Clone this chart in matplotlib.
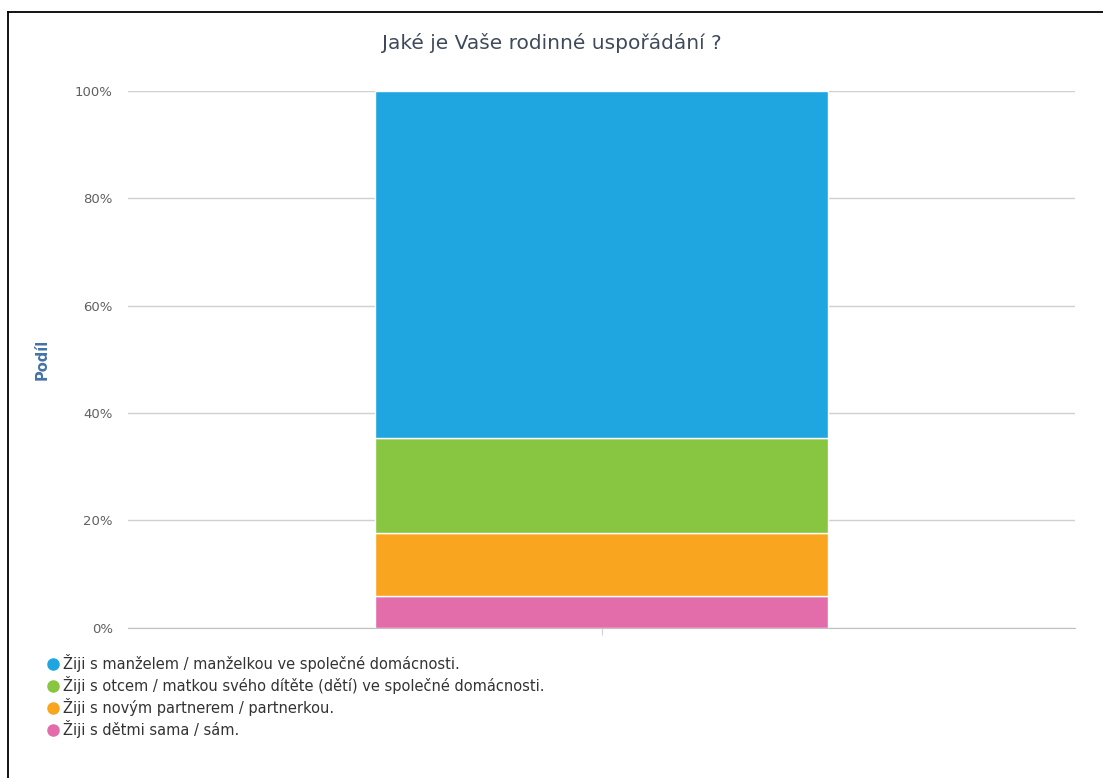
import matplotlib
matplotlib.use("Agg")
from matplotlib import pyplot as plt
from matplotlib.lines import Line2D

# podíly odpovědí (počty z 17 respondentů)
labels = ["Žiji s manželem / manželkou ve společné domácnosti.",
          "Žiji s otcem / matkou svého dítěte (dětí) ve společné domácnosti.",
          "Žiji s novým partnerem / partnerkou.",
          "Žiji s dětmi sama / sám."]
counts = [11, 3, 2, 1]
colors = ["#1fa6e0", "#88c541", "#f9a51f", "#e36cab"]
yticks = [0, 20, 40, 60, 80, 100]

total = sum(counts)
shares = [c / total * 100 for c in counts]

fig = plt.figure(figsize=(11.03, 7.78), dpi=100)
fig.patch.set_facecolor("white")

ax = fig.add_axes([0.116, 0.193, 0.859, 0.690])

# skládaný sloupec odspodu
bottom = 0
for share, col in zip(shares[::-1], colors[::-1]):
    ax.bar([0], [share], 0.478, bottom=bottom, color=col, edgecolor="white",
           linewidth=1, zorder=3)
    bottom += share

ax.set_xlim(-0.5, 0.5)
ax.set_ylim(0, 100)
ax.set_yticks(yticks)
ax.set_yticklabels([f"{t}%" for t in yticks], color="#606060", fontsize=9.5)
ax.set_xticks([0])
ax.set_xticklabels([""])
ax.tick_params(axis="x", length=5, color="#d0d0d0")
ax.tick_params(axis="y", length=0, pad=11)
ax.grid(axis="y", color="#d0d0d0", linewidth=1, zorder=0)
for s in ["top", "right", "left"]:
    ax.spines[s].set_visible(False)
ax.spines["bottom"].set_color("#c0c0c0")
ax.set_ylabel("Podíl", color="#4572a7", fontweight="bold", fontsize=10.5, labelpad=18)

fig.text(0.5, 0.945, "Jaké je Vaše rodinné uspořádání ?", ha="center", va="center",
         fontsize=14.5, color="#3e4a5b")

handles = [Line2D([], [], marker="o", linestyle="", markersize=8, color=c) for c in colors]
fig.legend(handles, labels, loc="upper left", bbox_to_anchor=(0.036, 0.167),
           frameon=False, fontsize=10.5, handletextpad=0.2, labelspacing=0.28,
           handlelength=1.0, borderaxespad=0, labelcolor="#333333")

# rámeček
fig.add_artist(Line2D([8 / 1103, 8 / 1103], [0, 1 - 12 / 778], color="black", linewidth=1.3))
fig.add_artist(Line2D([8 / 1103, 1], [1 - 12 / 778, 1 - 12 / 778], color="black", linewidth=1.3))

fig.savefig("out.png", dpi=100)
